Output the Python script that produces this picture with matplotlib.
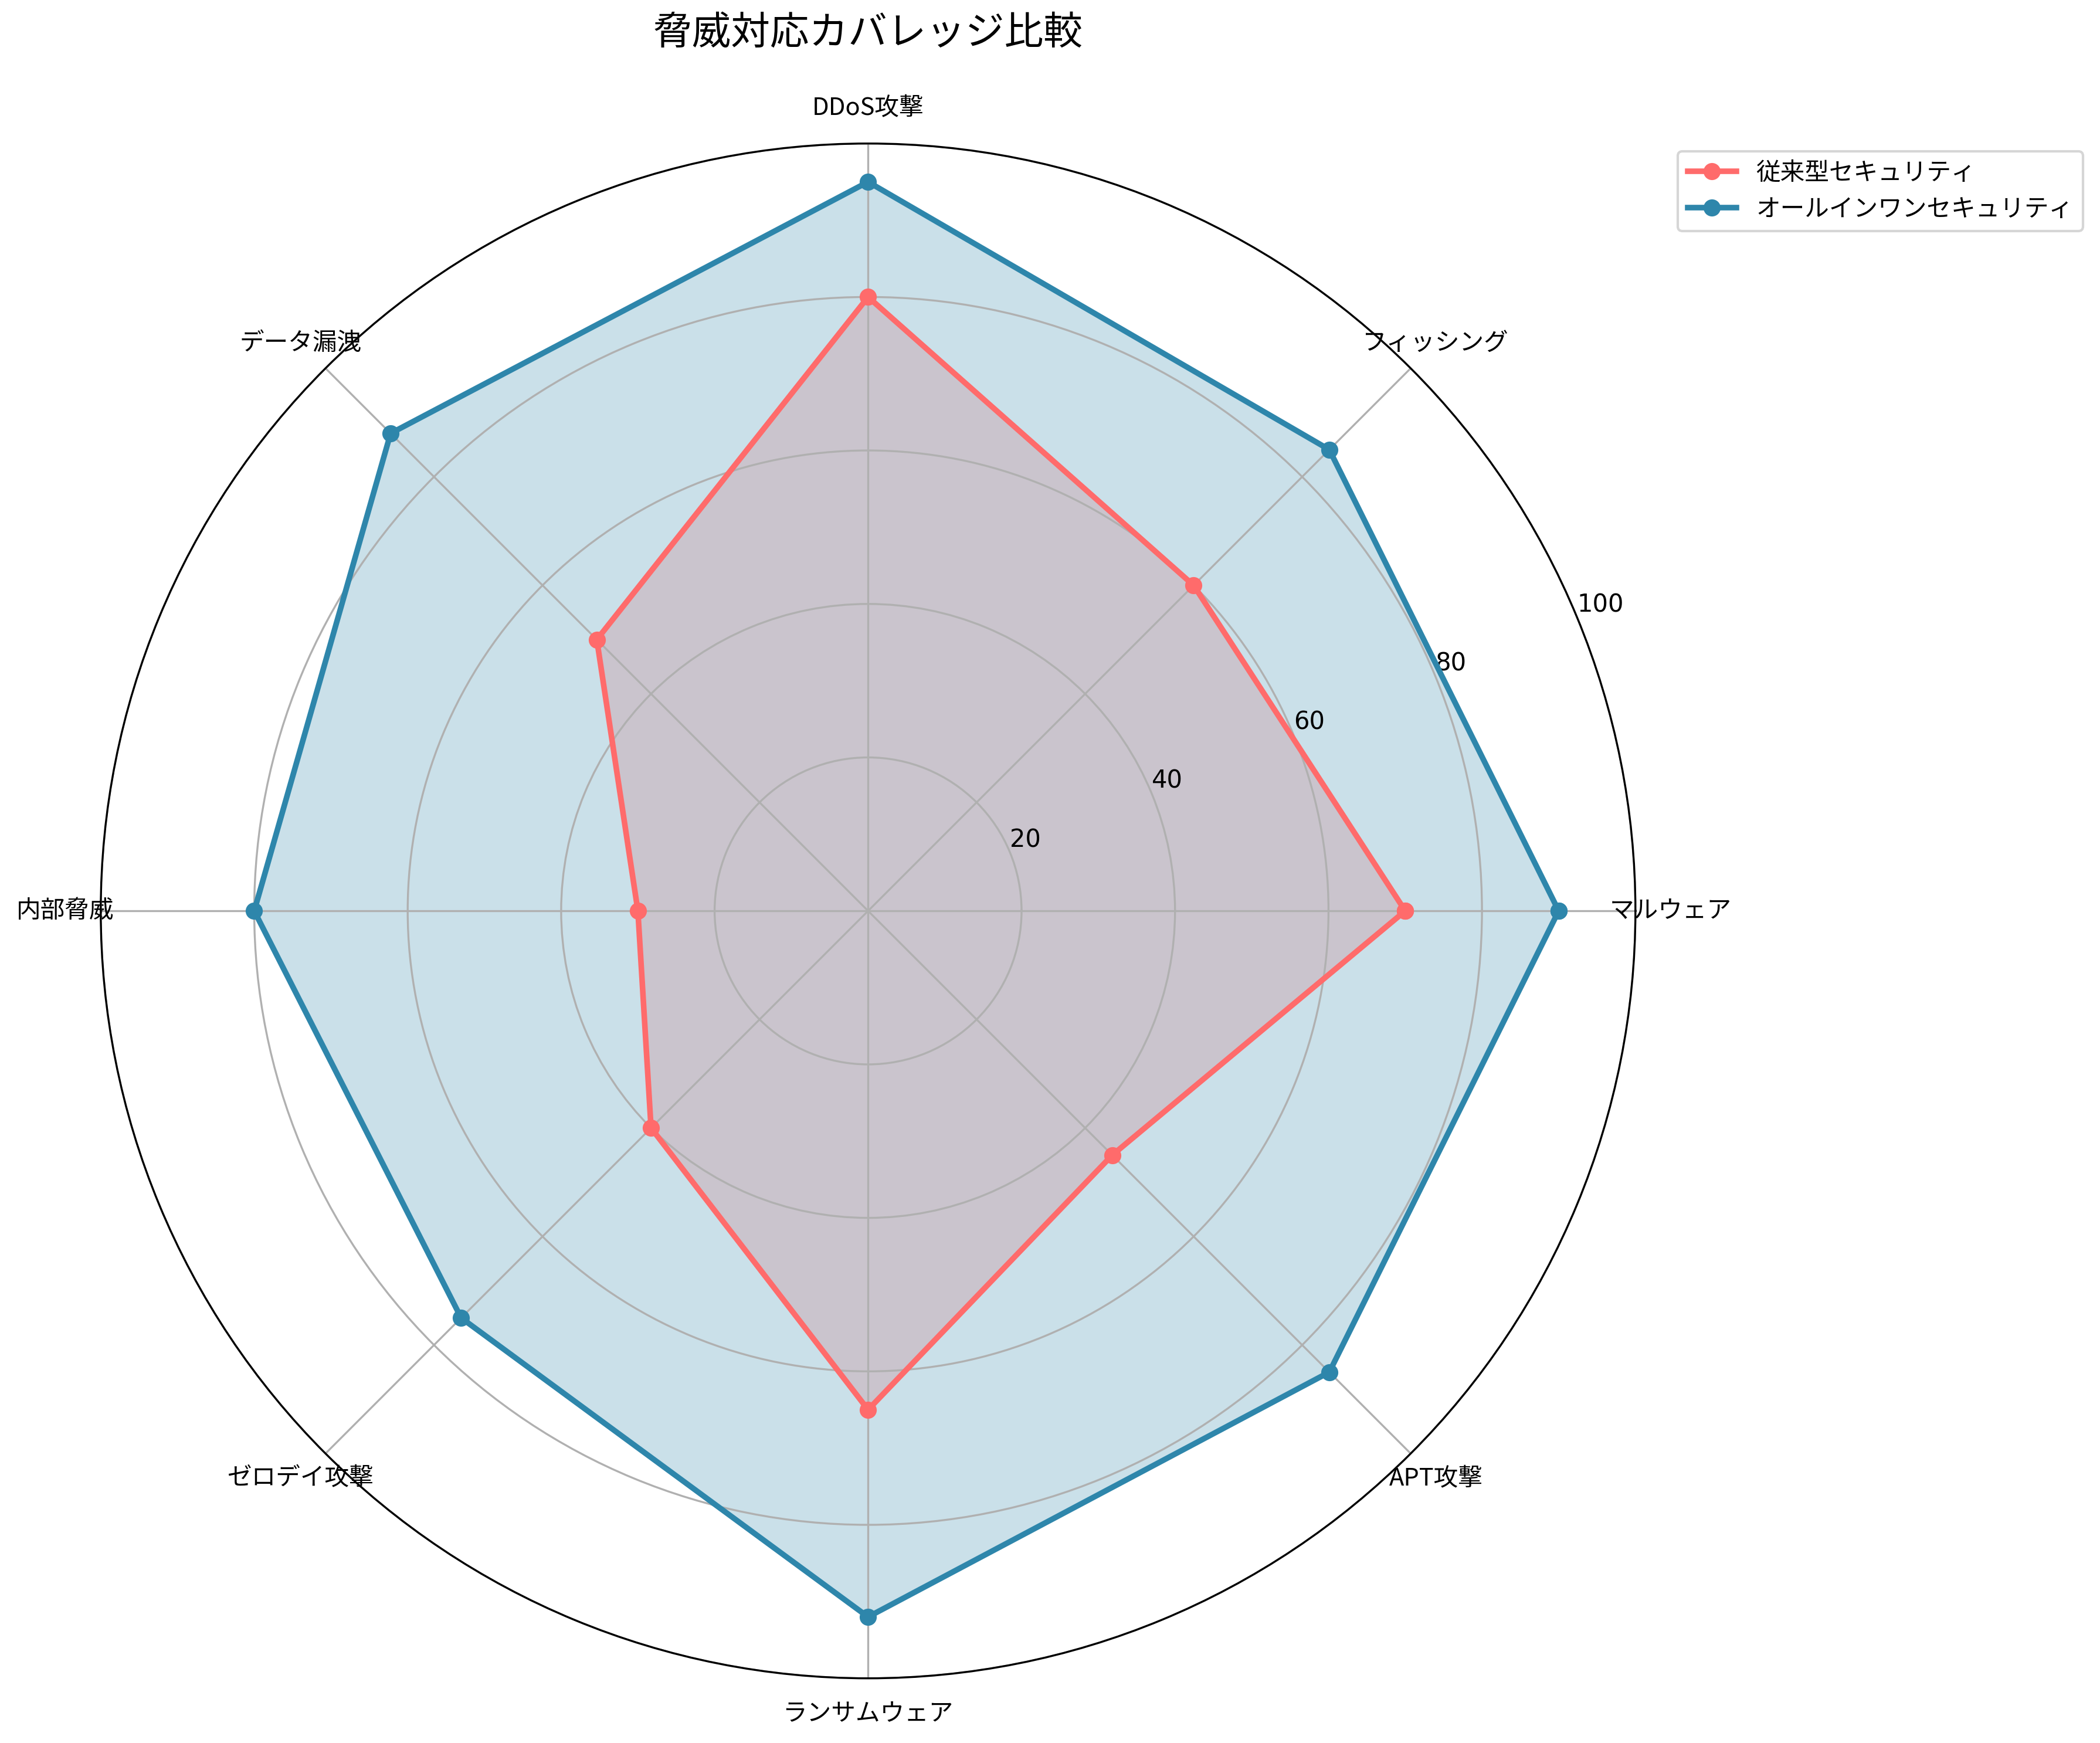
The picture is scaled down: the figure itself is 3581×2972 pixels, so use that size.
import numpy as np
import matplotlib
matplotlib.use("Agg")
import matplotlib.pyplot as plt

categories = ["マルウェア", "フィッシング", "DDoS攻撃", "データ漏洩", "内部脅威",
              "ゼロデイ攻撃", "ランサムウェア", "APT攻撃"]
traditional = [70, 60, 80, 50, 30, 40, 65, 45]
allinone = [90, 85, 95, 88, 80, 75, 92, 85]
series_names = ["従来型セキュリティ", "オールインワンセキュリティ"]
r_ticks = [20, 40, 60, 80, 100]
title = "脅威対応カバレッジ比較"

JP = ["Noto Sans CJK JP", "DejaVu Sans"]

W, H = 3581, 2972
DPI = 300
fig = plt.figure(figsize=(W / DPI, H / DPI), dpi=DPI)

cx, cy, R = 1480.3, 1553.2, 1308.5
ax = fig.add_axes([(cx - R) / W, (H - cy - R) / H, 2 * R / W, 2 * R / H],
                  projection="polar")

n = len(categories)
angles = np.linspace(0, 2 * np.pi, n, endpoint=False).tolist()
angles_c = angles + angles[:1]

colors = ["#FF6B6B", "#2E86AB"]
for vals, name, col in zip([traditional, allinone], series_names, colors):
    v = list(vals) + [vals[0]]
    ax.plot(angles_c, v, "o-", color=col, linewidth=2.3, markersize=6, label=name)
    ax.fill(angles_c, v, color=col, alpha=0.25)

ax.set_ylim(0, 100)
ax.set_yticks(r_ticks)
ax.set_yticklabels([str(t) for t in r_ticks], fontsize=10)
ax.set_xticks(angles)
ax.set_xticklabels(categories, fontfamily=JP, fontsize=10)
ax.tick_params(axis="x", pad=4)

fig.text(0.4133, 1 - 57 / H, title, ha="center", va="center",
         fontsize=16, fontfamily=JP)

ax.legend(loc="upper right", bbox_to_anchor=(3552 / W, 1 - 258 / H),
          bbox_transform=fig.transFigure, borderaxespad=0,
          prop={"family": JP, "size": 10})

fig.savefig("out.png", dpi=DPI)
